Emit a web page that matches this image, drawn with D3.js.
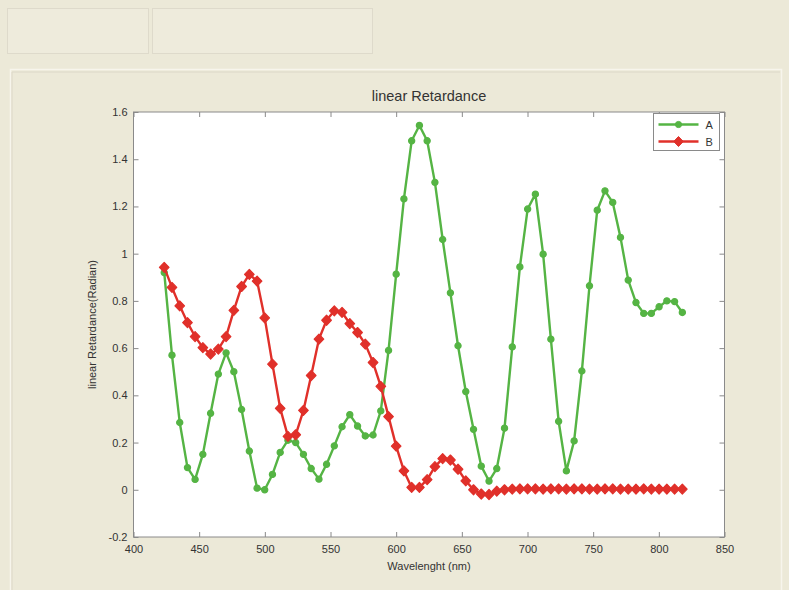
<!DOCTYPE html>
<html>
<head>
<meta charset="utf-8">
<script src="https://cdn.jsdelivr.net/npm/d3@7"></script>
<style>
  body { margin: 0; background: #ece9d8; }
  svg { display: block; }
  text { font-family: "Liberation Sans", Arial, sans-serif; fill: #333; }
</style>
</head>
<body>
<svg width="789" height="590"></svg>
<script>
// Data ======================================================

// wavelength of each sample (nm)
var wavelength = [
  423.4, 429.3, 435.2, 441.1, 446.9, 452.8, 458.7, 464.6, 470.5, 476.4,
  482.3, 488.2, 494.1, 499.9, 505.8, 511.7, 517.6, 523.5, 529.4, 535.3,
  541.2, 547.0, 552.9, 558.8, 564.7, 570.6, 576.5, 582.4, 588.3, 594.2,
  600.0, 605.9, 611.8, 617.7, 623.6, 629.5, 635.4, 641.3, 647.1, 653.0,
  658.9, 664.8, 670.7, 676.6, 682.5, 688.4, 694.2, 700.1, 706.0, 711.9,
  717.8, 723.7, 729.6, 735.5, 741.4, 747.2, 753.1, 759.0, 764.9, 770.8,
  776.7, 782.6, 788.5, 794.3, 800.2, 806.1, 812.0, 817.9
];

var seriesA = [
  0.92, 0.57, 0.285, 0.094, 0.044, 0.15, 0.324, 0.49, 0.58, 0.50,
  0.34, 0.164, 0.007, 0.0, 0.065, 0.158, 0.21, 0.20, 0.15, 0.09,
  0.045, 0.108, 0.186, 0.267, 0.318, 0.27, 0.228, 0.232, 0.334, 0.59,
  0.913, 1.232, 1.478, 1.543, 1.478, 1.302, 1.06, 0.834, 0.61, 0.416,
  0.256, 0.10, 0.037, 0.09, 0.261, 0.605, 0.944, 1.189, 1.252, 0.998,
  0.638, 0.29, 0.08, 0.207, 0.503, 0.864, 1.184, 1.266, 1.217, 1.069,
  0.888, 0.793, 0.747, 0.747, 0.775, 0.80, 0.797, 0.751
];

var seriesB = [
  0.942, 0.857, 0.779, 0.708, 0.649, 0.602, 0.575, 0.596, 0.649, 0.76,
  0.861, 0.912, 0.884, 0.728, 0.532, 0.345, 0.226, 0.233, 0.336, 0.484,
  0.638, 0.718, 0.758, 0.751, 0.704, 0.666, 0.617, 0.539, 0.438, 0.31,
  0.185, 0.08, 0.01, 0.01, 0.043, 0.098, 0.132, 0.126, 0.087, 0.038,
  0.0, -0.018, -0.02, -0.006, 0.0, 0.003, 0.004, 0.004, 0.004, 0.003,
  0.004, 0.004, 0.003, 0.004, 0.004, 0.003, 0.003, 0.004, 0.004, 0.003,
  0.003, 0.003, 0.004, 0.003, 0.003, 0.003, 0.003, 0.003
];

var xTicks = [400, 450, 500, 550, 600, 650, 700, 750, 800, 850];
var yTicks = [-0.2, 0, 0.2, 0.4, 0.6, 0.8, 1, 1.2, 1.4, 1.6];
var seriesNames = ["A", "B"];

// Layout ====================================================

var svg = d3.select("svg");
var plotLeft = 133.5, plotRight = 724.5, plotTop = 112, plotBottom = 537;

var x = d3.scaleLinear().domain([400, 850]).range([plotLeft, plotRight]);
var y = d3.scaleLinear().domain([-0.2, 1.6]).range([plotBottom, plotTop]);

// window chrome: tab boxes and figure panel
svg.append("rect").attr("x", 0).attr("y", 0).attr("width", 789).attr("height", 590)
   .attr("fill", "#ece9d8");
svg.append("rect").attr("x", 7.5).attr("y", 8.5).attr("width", 141).attr("height", 45)
   .attr("fill", "#eeebdc").attr("stroke", "#dedacb");
svg.append("rect").attr("x", 152.5).attr("y", 8.5).attr("width", 220).attr("height", 45)
   .attr("fill", "#eeebdc").attr("stroke", "#dedacb");
svg.append("path").attr("d", "M10.5,590V69.5H781.5V590")
   .attr("fill", "none").attr("stroke", "#f7f5ec").attr("stroke-width", 1.5);
svg.append("path").attr("d", "M12,590V72H780")
   .attr("fill", "none").attr("stroke", "#dcd8c8").attr("stroke-width", 1);

// plot area
svg.append("rect").attr("x", plotLeft).attr("y", plotTop)
   .attr("width", plotRight - plotLeft).attr("height", plotBottom - plotTop)
   .attr("fill", "#ffffff");

// Axes ======================================================

var fmt = function(d) { return String(+d.toFixed(1)); };

function styleAxis(g) {
  g.select(".domain").remove();
  g.selectAll(".tick line").attr("stroke", "#8a8a8a");
  g.selectAll(".tick text").attr("font-size", 11).attr("fill", "#2a2a2a");
}

svg.append("g").attr("transform", "translate(0," + plotBottom + ")")
   .call(d3.axisBottom(x).tickValues(xTicks).tickFormat(fmt).tickSize(-5).tickPadding(8))
   .call(styleAxis);
svg.append("g").attr("transform", "translate(0," + plotTop + ")")
   .call(d3.axisTop(x).tickValues(xTicks).tickFormat("").tickSize(-5))
   .call(styleAxis);
svg.append("g").attr("transform", "translate(" + plotLeft + ",0)")
   .call(d3.axisLeft(y).tickValues(yTicks).tickFormat(fmt).tickSize(-5).tickPadding(6))
   .call(styleAxis);
svg.append("g").attr("transform", "translate(" + plotRight + ",0)")
   .call(d3.axisRight(y).tickValues(yTicks).tickFormat("").tickSize(-5))
   .call(styleAxis);

// plot box
svg.append("rect").attr("x", plotLeft).attr("y", plotTop)
   .attr("width", plotRight - plotLeft).attr("height", plotBottom - plotTop)
   .attr("fill", "none").attr("stroke", "#8a8a8a").attr("stroke-width", 1);

// Series ====================================================

var colors = { A: "#55b444", B: "#e0302a" };
var line = d3.line().x(function(d) { return x(d[0]); }).y(function(d) { return y(d[1]); });

function drawSeries(values, color, marker) {
  var pts = d3.zip(wavelength, values);
  var g = svg.append("g");
  g.append("path").datum(pts)
    .attr("d", line).attr("fill", "none")
    .attr("stroke", color).attr("stroke-width", 2.4).attr("stroke-linejoin", "round");
  g.selectAll("path.m").data(pts).enter().append("path")
    .attr("class", "m")
    .attr("transform", function(d) { return "translate(" + x(d[0]) + "," + y(d[1]) + ")"; })
    .attr("d", marker)
    .attr("fill", color).attr("stroke", color).attr("stroke-width", 1.2)
    .attr("stroke-linejoin", "round");
}

var circle = d3.symbol().type(d3.symbolCircle).size(30)();
var diamond = "M0,-5L4.8,0L0,5L-4.8,0Z";

drawSeries(seriesA, colors.A, circle);
drawSeries(seriesB, colors.B, diamond);

// Legend ====================================================

var legend = svg.append("g").attr("transform", "translate(653.5,113.5)");
legend.append("rect").attr("width", 66).attr("height", 37)
  .attr("fill", "#ffffff").attr("stroke", "#8a8a8a");
seriesNames.forEach(function(name, i) {
  var ly = 11 + i * 17;
  var m = i === 0 ? circle : diamond;
  legend.append("line").attr("x1", 5).attr("x2", 45).attr("y1", ly).attr("y2", ly)
    .attr("stroke", colors[name]).attr("stroke-width", 2.4);
  legend.append("path").attr("d", m).attr("transform", "translate(25," + ly + ")")
    .attr("fill", colors[name]).attr("stroke", colors[name]);
  legend.append("text").attr("x", 52).attr("y", ly + 4).attr("font-size", 11).text(name);
});

// Labels ====================================================

svg.append("text").attr("x", (plotLeft + plotRight) / 2).attr("y", 101)
   .attr("text-anchor", "middle").attr("font-size", 14.5).attr("fill", "#1a1a1a")
   .text("linear Retardance");
svg.append("text").attr("x", (plotLeft + plotRight) / 2).attr("y", 570)
   .attr("text-anchor", "middle").attr("font-size", 11).attr("fill", "#2a2a2a")
   .text("Wavelenght (nm)");
svg.append("text").attr("transform", "translate(96," + (plotTop + plotBottom) / 2 + ") rotate(-90)")
   .attr("text-anchor", "middle").attr("font-size", 11).attr("fill", "#2a2a2a")
   .text("linear Retardance(Radian)");
</script>
</body>
</html>
